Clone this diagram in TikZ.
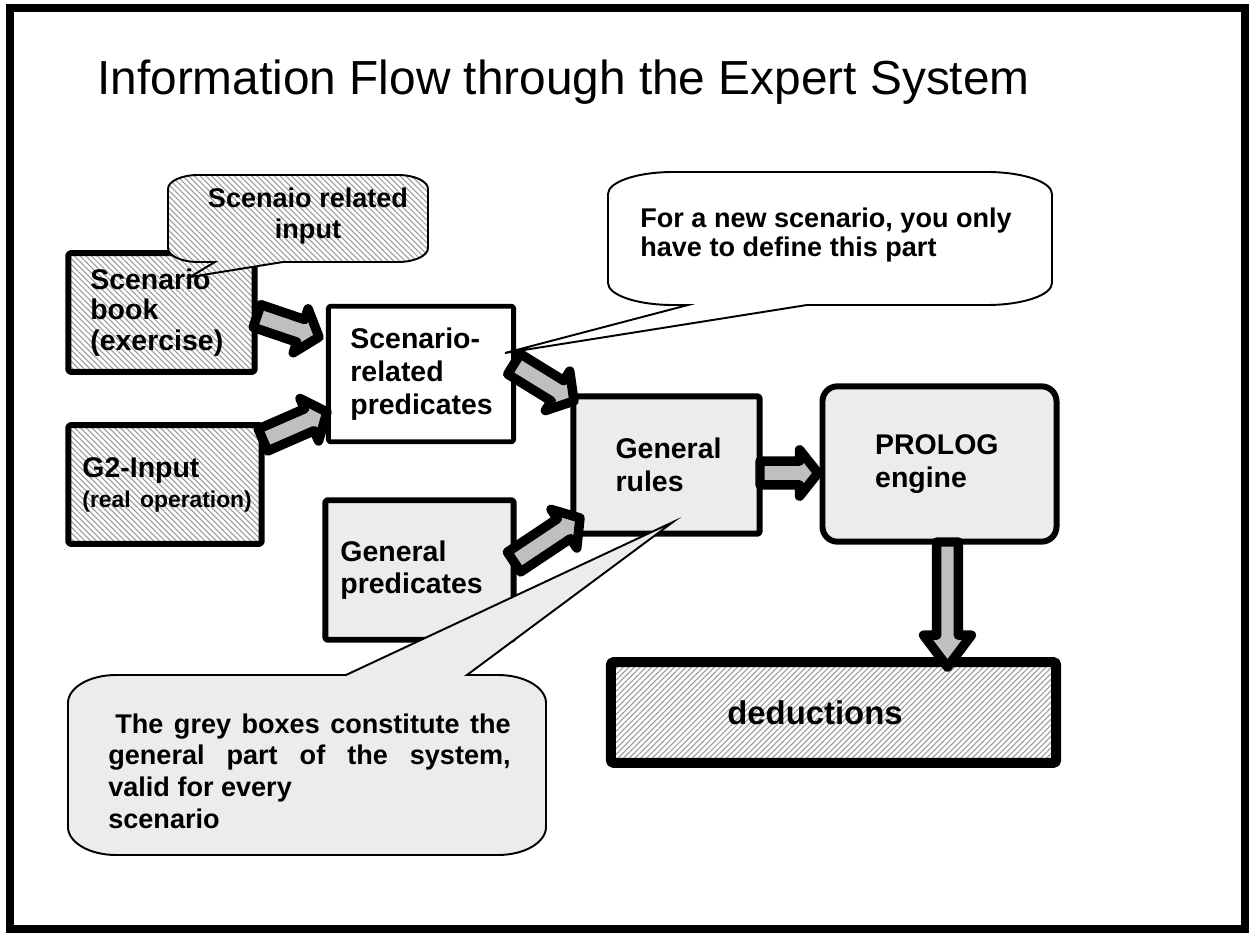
\documentclass[tikz,border=0pt]{standalone}
\usepackage{fontspec}
\setmainfont{Liberation Sans}
\usetikzlibrary{calc,patterns.meta}
\hyphenpenalty=10000
\exhyphenpenalty=10000

\newcommand\fatarrow[5]{%
  \coordinate (fas) at #1;
  \coordinate (fat) at #2;
  \coordinate (fah) at ($(fat)!#5!(fas)$);
  \draw[blockarrow] ($(fas)!#3!90:(fat)$) -- ($(fah)!#3!90:(fat)$) -- ($(fah)!#4!90:(fat)$) -- (fat) -- ($(fah)!#4!-90:(fat)$) -- ($(fah)!#3!-90:(fat)$) -- ($(fas)!#3!-90:(fat)$) -- cycle;}

\tikzset{
  box/.style={draw=black, rectangle, line width=3.4pt, line join=round, rounded corners=1pt,
    align=left, inner ysep=0pt, font=\fontsize{16.2}{18}\selectfont\bfseries},
  hatchnw/.style={preaction={fill=white}, pattern={Lines[angle=-45,distance=2.3pt,line width=0.6pt]}, pattern color=gray!80},
  hatchne/.style={preaction={fill=white}, pattern={Lines[angle=45,distance=2.3pt,line width=0.6pt]}, pattern color=gray!80},
  dotgrey/.style={fill=gray!15},
  blockarrow/.style={draw=black, fill=gray!50, line width=5.4pt, line join=round},
  callout/.style={draw=black, line width=1.1pt, line join=miter},
  calltext/.style={inner sep=0pt, font=\fontsize{15.4}{18}\selectfont\bfseries}
}

\begin{document}
\begin{tikzpicture}[x=0.02cm, y=-0.02cm]
\useasboundingbox (0,0) rectangle (1249,936);

% title
\node[anchor=base west, inner sep=0pt, font=\fontsize{27.2}{32}\selectfont] (title) at (97,95) {Information Flow through the Expert System};

% boxes
\node[box, hatchnw, minimum width=106pt, minimum height=67.5pt, inner xsep=12.5pt, text width=81pt, font=\fontsize{16.2}{17.3}\selectfont\bfseries] (book) at (161.5,312.5) {Scenario\\book\\(exercise)};
\node[box, hatchnw, minimum width=110pt, minimum height=67.5pt, inner xsep=8pt, text width=94pt, font=\fontsize{16.2}{17}\selectfont\bfseries] (g2) at (165,484.5) {G2-Input\\\fontsize{13}{17}\selectfont\mbox{(real operation)}};
\node[box, fill=white, line width=2.8pt, minimum width=105.4pt, minimum height=77.1pt, inner xsep=12.5pt, text width=80.4pt, font=\fontsize{16.2}{18.7}\selectfont\bfseries] (srp) at (421,374) {Scenario-\\related\\predicates};
\node[box, dotgrey, minimum width=107.1pt, minimum height=79.4pt, inner xsep=8.5pt, text width=90pt] (gp) at (419.5,570) {General\\predicates};
\node[box, dotgrey, minimum width=106pt, minimum height=78.2pt, inner xsep=24pt, text width=58pt, font=\fontsize{16.2}{18.7}\selectfont\bfseries] (gr) at (666.5,465) {General\\rules};
\node[box, dotgrey, rounded corners=8.5pt, minimum width=133.2pt, minimum height=88.4pt, inner xsep=30pt, text width=73.2pt, font=\fontsize{16.2}{18.7}\selectfont\bfseries] (prolog) at (939.5,464) {PROLOG\\engine};
\node[box, hatchne, line width=5.7pt, minimum width=253.4pt, minimum height=57.3pt, inner xsep=66.3pt, text width=120.8pt, font=\fontsize{18.7}{21}\selectfont\bfseries] (ded) at (833.5,712.5) {deductions};

% block arrows
\fatarrow{($(book)+(95.5,3.5)$)}{($(srp)+(-102,-37)$)}{6.8pt}{13.2pt}{11pt}
\fatarrow{($(g2)+(98,-44.5)$)}{($(srp)+(-94,38)$)}{6.8pt}{13.2pt}{11pt}
\fatarrow{($(srp)+(93,-10)$)}{($(gr)+(-92.5,-64)$)}{6.8pt}{13.2pt}{11pt}
\fatarrow{($(gp)+(94.5,-8)$)}{($(gr)+(-86.5,53)$)}{6.8pt}{13.2pt}{11pt}
\fatarrow{($(gr)+(93.5,8)$)}{($(prolog)+(-121.5,9)$)}{6.8pt}{13.2pt}{10.5pt}
\fatarrow{($(prolog)+(8,78)$)}{($(ded)+(114,-45.5)$)}{6.2pt}{13.6pt}{18.1pt}

% callout tips
\coordinate (tipA) at ($(book)+(28.5,-35.5)$);
\coordinate (tipB) at ($(srp)+(84,-21)$);
\coordinate (tipC) at ($(gr)+(6.5,57)$);

% callout A
\draw[callout, hatchnw] (198,175) -- (398,175) .. controls (414.6,175) and (428,181.3) .. (428,189) -- (428,248) .. controls (428,255.7) and (414.6,262) .. (398,262) -- (283,262) -- (tipA) -- (215,262) -- (198,262) .. controls (181.4,262) and (168,255.7) .. (168,248) -- (168,189) .. controls (168,181.3) and (181.4,175) .. (198,175) -- cycle;
\node[calltext, align=center] (textA) at (308,216) {Scenaio related\\input};

% callout B
\draw[callout, fill=white] (673,172) -- (987,172) .. controls (1022.9,172) and (1052,181.9) .. (1052,194) -- (1052,283) .. controls (1052,295.1) and (1022.9,305) .. (987,305) -- (807,305) -- (tipB) -- (688,305) -- (673,305) .. controls (637.1,305) and (608,295.1) .. (608,283) -- (608,194) .. controls (608,181.9) and (637.1,172) .. (673,172) -- cycle;
\node[calltext, anchor=west, align=left, font=\fontsize{15.4}{17}\selectfont\bfseries] (textB) at (640,235) {For a new scenario, you only\\have to define this part};

% callout C
\draw[callout, dotgrey] (116,675) -- (346,675) -- (tipC) -- (467,675) -- (498,675) .. controls (524.5,675) and (546,687.5) .. (546,703) -- (546,827) .. controls (546,842.5) and (524.5,855) .. (498,855) -- (116,855) .. controls (89.5,855) and (68,842.5) .. (68,827) -- (68,703) .. controls (68,687.5) and (89.5,675) .. (116,675) -- cycle;
\node[calltext, anchor=west, align=left] (textC) at (108,771) {\makebox[229pt][s]{\hspace*{4pt}The grey boxes constitute the}\\\makebox[229pt][s]{general part of the system,}\\valid for every\\scenario};

% frame
\draw[line width=4.5pt] (10,8) rectangle (1245,929);
\end{tikzpicture}
\end{document}
